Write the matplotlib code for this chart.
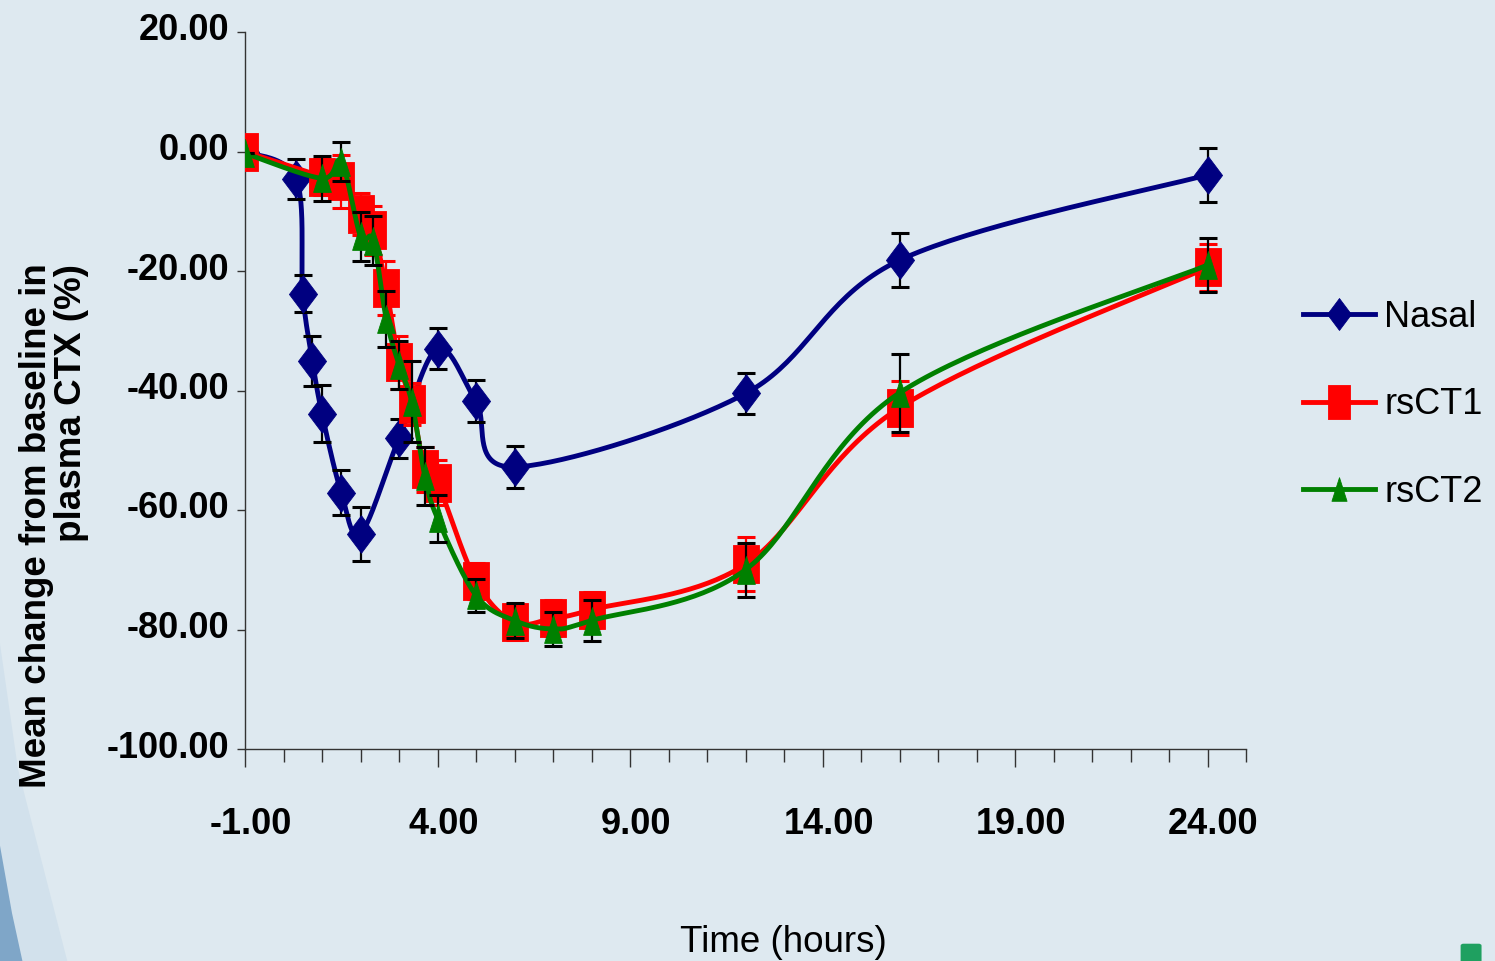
import matplotlib
matplotlib.use('Agg')
import matplotlib.pyplot as plt
import matplotlib.transforms as mtransforms
import numpy as np
from matplotlib.patches import Polygon, FancyBboxPatch

# sampling times (hours)
t_nasal = [-1, 0.33, 0.5, 0.75, 1, 1.5, 2, 3, 4, 5, 6, 12, 16, 24]
t_ct = [-1, 1, 1.5, 2, 2.33, 2.67, 3, 3.33, 3.67, 4, 5, 6, 7, 8, 12, 16, 24]

# mean change from baseline (%) and error
nasal = [0, -4.6, -23.8, -35.0, -43.9, -57.1, -64.0, -48.0, -33.0, -41.8, -52.8, -40.5, -18.2, -3.9]
nasal_err = [0, 3.4, 3.1, 4.2, 4.8, 3.8, 4.5, 3.3, 3.4, 3.5, 3.5, 3.5, 4.5, 4.5]
rsct1 = [0, -4.2, -5.0, -10.4, -13.2, -22.9, -35.3, -42.2, -53.2, -55.4, -71.9, -78.8, -78.1, -76.7, -69.1, -42.9, -19.4]
rsct1_err = [0, 3.0, 4.4, 3.5, 4.1, 4.5, 4.5, 3.5, 3.8, 3.8, 3.0, 3.0, 3.0, 3.0, 4.5, 4.5, 3.9]
rsct2 = [-0.3, -4.5, -1.7, -14.2, -14.9, -28.1, -35.7, -41.9, -54.3, -61.4, -74.3, -78.5, -79.9, -78.5, -70.0, -40.4, -19.0]
rsct2_err = [0, 3.8, 3.3, 4.1, 4.1, 4.7, 4.0, 6.8, 4.9, 3.9, 2.8, 3.0, 2.8, 3.4, 4.5, 6.5, 4.5]

labels = ['Nasal', 'rsCT1', 'rsCT2']
colors = ['#000080', '#FF0000', '#008000']

bg = '#DEE9F0'
plt.rcParams['font.family'] = ['Liberation Sans', 'DejaVu Sans']


def smooth(x, y, n=40):
    # excel-like smoothed line (catmull-rom as bezier segments)
    P = np.column_stack([x, y]).astype(float)
    P = np.vstack([P[0], P, P[-1]])
    s = np.linspace(0, 1, n)[:, None]
    out = []
    for i in range(1, len(P) - 2):
        p0, p1, p2, p3 = P[i - 1], P[i], P[i + 1], P[i + 2]
        c1 = p1 + (p2 - p0) / 6
        c2 = p2 - (p3 - p1) / 6
        out.append((1 - s)**3 * p1 + 3 * (1 - s)**2 * s * c1 + 3 * (1 - s) * s**2 * c2 + s**3 * p2)
    pts = np.vstack(out)
    return pts[:, 0], pts[:, 1]


diamond_m = [(0, 1), (0.75, 0), (0, -1), (-0.75, 0), (0, 1)]
square_m = [(-0.67, -1), (0.67, -1), (0.67, 1), (-0.67, 1), (-0.67, -1)]
tri_m = [(0, 1), (0.64, -1), (-0.64, -1), (0, 1)]

fig = plt.figure(figsize=(14.95, 9.61), dpi=100, facecolor=bg)

# background decoration bottom-left
fig.patches.append(Polygon([(0, 0.33), (0.012, 0.2), (0.045, 0), (0, 0)], closed=True,
                           transform=fig.transFigure, facecolor='#D2E1EC', edgecolor='none', zorder=0))
fig.patches.append(Polygon([(0, 0.12), (0.008, 0.05), (0.015, 0), (0, 0)], closed=True,
                           transform=fig.transFigure, facecolor='#7FA6C8', edgecolor='none', zorder=0))
fig.patches.append(FancyBboxPatch((0.979, -0.01), 0.010, 0.026, boxstyle='round,pad=0.002',
                                  transform=fig.transFigure, facecolor='#1FA060', edgecolor='none'))

ax = fig.add_axes([245 / 1495, 1 - 749 / 961, (1246 - 245) / 1495, (749 - 32) / 961])
ax.set_facecolor('none')

series = [(t_nasal, nasal, nasal_err, diamond_m, 27, 'black'),
          (t_ct, rsct1, rsct1_err, square_m, 28, colors[1]),
          (t_ct, rsct2, rsct2_err, tri_m, 20, 'black')]

handles = []
for k, (t, v, e, m, ms, ecol) in enumerate(series):
    z = 3 + 3 * k
    sx, sy = smooth(t, v)
    ax.plot(sx, sy, color=colors[k], lw=3.5, zorder=z, solid_capstyle='round')
    ax.errorbar(t, v, yerr=e, fmt='none', ecolor=ecol, elinewidth=1.6,
                capsize=6.5, capthick=2.2, zorder=z + 1)
    ax.plot(t, v, linestyle='none', marker=m, ms=ms, color=colors[k],
            mec=colors[k], mew=0.6, zorder=z + 2)
    h, = ax.plot([], [], color=colors[k], lw=3.5, marker=m, ms=ms * 0.85,
                 mec=colors[k], mew=0.6)
    handles.append(h)

ax.set_xlim(-1, 25)
ax.set_ylim(-100, 20)
ax.set_xticks([-1, 4, 9, 14, 19, 24])
ax.set_xticklabels(['%.2f' % v for v in [-1, 4, 9, 14, 19, 24]])
ax.set_xticks(np.arange(-1, 26, 1), minor=True)
ax.set_yticks(np.arange(-100, 21, 20))
ax.set_yticklabels(['%.2f' % v for v in np.arange(-100, 21, 20)])

for s in ['top', 'right']:
    ax.spines[s].set_visible(False)
for s in ['left', 'bottom']:
    ax.spines[s].set_color('#333333')
    ax.spines[s].set_linewidth(1.0)

ax.tick_params(axis='x', which='major', direction='out', length=13, width=1.0,
               color='#333333', pad=29, labelsize=26)
ax.tick_params(axis='x', which='minor', direction='out', length=9, width=1.0, color='#333333')
ax.tick_params(axis='y', which='major', direction='out', length=6, width=1.0,
               color='#333333', pad=4, labelsize=26)
xshift = mtransforms.ScaledTranslation(6 / 100, 0, fig.dpi_scale_trans)
yshift = mtransforms.ScaledTranslation(-2 / 100, 5 / 100, fig.dpi_scale_trans)
for lab in ax.get_xticklabels():
    lab.set_fontweight('bold')
    lab.set_transform(lab.get_transform() + xshift)
for lab in ax.get_yticklabels():
    lab.set_fontweight('bold')
    lab.set_transform(lab.get_transform() + yshift)

fig.text(54 / 1495, 1 - 526 / 961, 'Mean change from baseline in\nplasma CTX (%)',
         rotation=90, ha='center', va='center', multialignment='right',
         fontsize=26.5, fontweight='bold', linespacing=1.0)
fig.text(783 / 1495, 1 - 942 / 961, 'Time (hours)', ha='center', va='center', fontsize=26.5)

fig.legend(handles, labels, loc='upper left', bbox_to_anchor=(1303 / 1495, 1 - 300 / 961),
           frameon=False, fontsize=26, handlelength=2.0, handletextpad=0.25,
           labelspacing=1.45, borderpad=0, borderaxespad=0)

fig.savefig('out.png', dpi=100, facecolor=bg)
